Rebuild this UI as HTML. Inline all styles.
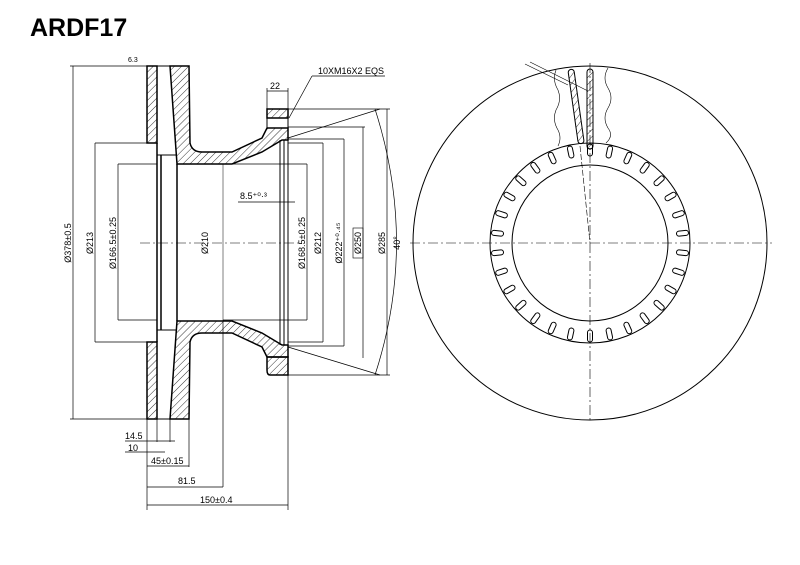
<!DOCTYPE html>
<html><head><meta charset="utf-8"><style>
html,body{margin:0;padding:0;background:#fff;}
svg{display:block}
text{font-family:"Liberation Sans",sans-serif;fill:#000}
</style></head><body>
<svg width="800" height="565" viewBox="0 0 800 565" xmlns="http://www.w3.org/2000/svg">
<defs>
<pattern id="h" width="5" height="5" patternUnits="userSpaceOnUse" patternTransform="rotate(45)">
<line x1="0" y1="0" x2="0" y2="5" stroke="#000" stroke-width="0.8"/>
</pattern>
</defs>
<text x="30" y="36" font-size="25" font-weight="bold">ARDF17</text>

<g stroke="#000" fill="none" stroke-width="1">
<line x1="140" y1="243" x2="300" y2="243" stroke-dasharray="10,3,2,3" stroke-width="0.6"/>
<rect x="147" y="66" width="10" height="77" fill="url(#h)" stroke-width="1.5"/>
<rect x="147" y="342" width="10" height="77" fill="url(#h)" stroke-width="1.5"/>
<path d="M170,66 L189,66 L190,143 Q192,152 202,152 L232,152 L262,138 L267,128 L288,128 L288,140 L282,140 L262,152 L232,164 L177,164 Z" fill="url(#h)" stroke-width="1.5"/>
<rect x="267" y="109" width="21" height="9" fill="url(#h)" stroke-width="1.5"/>
<line x1="267" y1="118" x2="267" y2="128"/><line x1="288" y1="118" x2="288" y2="128"/>
<path d="M170,419 L189,419 L190,342 Q192,333 202,333 L232,333 L262,347 L267,357 L288,357 L288,345 L282,345 L262,333 L232,321 L177,321 Z" fill="url(#h)" stroke-width="1.5"/>
<path d="M267,357 L288,357 L288,375 L270,375 Q267,375 267,370 Z" fill="url(#h)" stroke-width="1.5"/>
<line x1="157" y1="143" x2="157" y2="342" stroke-width="1.5"/>
<line x1="161" y1="155" x2="161" y2="330" stroke-width="1.5"/>
<line x1="157" y1="155" x2="177" y2="155"/><line x1="157" y1="330" x2="177" y2="330"/>
<line x1="177" y1="164" x2="177" y2="321" stroke-width="1.5"/>
<line x1="280" y1="140" x2="280" y2="345"/><line x1="284" y1="140" x2="284" y2="345"/>
<line x1="288" y1="140" x2="288" y2="345"/>
<line x1="223" y1="164" x2="223" y2="321" stroke-width="0.5"/>
<line x1="157" y1="66" x2="170" y2="66"/><line x1="157" y1="419" x2="170" y2="419"/>

<g stroke-width="0.7">
<line x1="73" y1="66" x2="73" y2="419"/><line x1="70" y1="66" x2="147" y2="66"/><line x1="70" y1="419" x2="147" y2="419"/>
<line x1="95" y1="143" x2="95" y2="342"/><line x1="95" y1="143" x2="147" y2="143"/><line x1="95" y1="342" x2="147" y2="342"/>
<line x1="118" y1="164" x2="118" y2="320"/><line x1="118" y1="164" x2="157" y2="164"/><line x1="118" y1="320" x2="157" y2="320"/>
<line x1="307" y1="164" x2="307" y2="320"/><line x1="223" y1="164" x2="307" y2="164"/><line x1="223" y1="320" x2="307" y2="320"/>
<line x1="323" y1="143" x2="323" y2="342"/><line x1="288" y1="143" x2="323" y2="143"/><line x1="288" y1="342" x2="323" y2="342"/>
<line x1="344" y1="139" x2="344" y2="346"/><line x1="288" y1="139" x2="344" y2="139"/><line x1="288" y1="346" x2="344" y2="346"/>
<line x1="363" y1="127" x2="363" y2="358"/><line x1="288" y1="127" x2="365" y2="127"/>
<line x1="387" y1="109" x2="387" y2="375"/><line x1="288" y1="109" x2="390" y2="109"/><line x1="288" y1="375" x2="390" y2="375"/>
<path d="M375,109 Q418,243 375,375"/>
<line x1="288" y1="138" x2="380" y2="109"/><line x1="288" y1="347" x2="380" y2="375"/>
<line x1="288" y1="88" x2="288" y2="510"/><line x1="147" y1="419" x2="147" y2="510"/>
<line x1="189" y1="419" x2="189" y2="467"/><line x1="223" y1="321" x2="223" y2="487"/>
<line x1="157" y1="419" x2="157" y2="442"/><line x1="170" y1="419" x2="170" y2="442"/>
<line x1="125" y1="441" x2="175" y2="441"/><line x1="125" y1="452" x2="165" y2="452"/>
<line x1="147" y1="466" x2="189" y2="466"/><line x1="147" y1="487" x2="223" y2="487"/><line x1="147" y1="505" x2="288" y2="505"/>
<line x1="267" y1="88" x2="267" y2="109"/><line x1="267" y1="91" x2="288" y2="91"/>
<line x1="289" y1="118" x2="312" y2="76"/><line x1="312" y1="76" x2="385" y2="76"/>
<line x1="238" y1="202" x2="295" y2="202"/>
</g>
</g>
<g font-size="9">
<text transform="translate(71,243) rotate(-90)" text-anchor="middle">Ø378±0.5</text>
<text transform="translate(93,243) rotate(-90)" text-anchor="middle">Ø213</text>
<text transform="translate(116,243) rotate(-90)" text-anchor="middle">Ø166.5±0.25</text>
<text transform="translate(208,243) rotate(-90)" text-anchor="middle">Ø210</text>
<text transform="translate(305,243) rotate(-90)" text-anchor="middle">Ø168.5±0.25</text>
<text transform="translate(321,243) rotate(-90)" text-anchor="middle">Ø212</text>
<text transform="translate(342,243) rotate(-90)" text-anchor="middle">Ø222⁺⁰·⁴⁵</text>
<text transform="translate(361,243) rotate(-90)" text-anchor="middle">Ø250</text>
<rect x="353" y="228" width="10" height="30" fill="none" stroke="#000" stroke-width="0.6"/>
<text transform="translate(385,243) rotate(-90)" text-anchor="middle">Ø285</text>
<text transform="translate(400,243) rotate(-90)" text-anchor="middle">40°</text>
<text x="318" y="74">10XM16X2  EQS</text>
<text x="270" y="89">22</text>
<text x="240" y="199">8.5⁺⁰·³</text>
<text x="125" y="439">14.5</text>
<text x="128" y="451">10</text>
<text x="151" y="464">45±0.15</text>
<text x="178" y="484">81.5</text>
<text x="200" y="503">150±0.4</text>
<text x="128" y="62" font-size="7">6.3</text>
</g>

<g stroke="#000" fill="none" stroke-width="1">
<circle cx="590" cy="243" r="177"/>
<circle cx="590" cy="243" r="100"/>
<circle cx="590" cy="243" r="78"/>
<line x1="410" y1="243" x2="772" y2="243" stroke-dasharray="10,3,2,3" stroke-width="0.6"/>
<line x1="590" y1="63" x2="590" y2="422" stroke-dasharray="10,3,2,3" stroke-width="0.6"/>
<g transform="translate(590,243)">
<rect x="-2.5" y="-99" width="5" height="12" rx="2.5" transform="rotate(0)"/>
<rect x="-2.5" y="-99" width="5" height="12" rx="2.5" transform="rotate(12)"/>
<rect x="-2.5" y="-99" width="5" height="12" rx="2.5" transform="rotate(24)"/>
<rect x="-2.5" y="-99" width="5" height="12" rx="2.5" transform="rotate(36)"/>
<rect x="-2.5" y="-99" width="5" height="12" rx="2.5" transform="rotate(48)"/>
<rect x="-2.5" y="-99" width="5" height="12" rx="2.5" transform="rotate(60)"/>
<rect x="-2.5" y="-99" width="5" height="12" rx="2.5" transform="rotate(72)"/>
<rect x="-2.5" y="-99" width="5" height="12" rx="2.5" transform="rotate(84)"/>
<rect x="-2.5" y="-99" width="5" height="12" rx="2.5" transform="rotate(96)"/>
<rect x="-2.5" y="-99" width="5" height="12" rx="2.5" transform="rotate(108)"/>
<rect x="-2.5" y="-99" width="5" height="12" rx="2.5" transform="rotate(120)"/>
<rect x="-2.5" y="-99" width="5" height="12" rx="2.5" transform="rotate(132)"/>
<rect x="-2.5" y="-99" width="5" height="12" rx="2.5" transform="rotate(144)"/>
<rect x="-2.5" y="-99" width="5" height="12" rx="2.5" transform="rotate(156)"/>
<rect x="-2.5" y="-99" width="5" height="12" rx="2.5" transform="rotate(168)"/>
<rect x="-2.5" y="-99" width="5" height="12" rx="2.5" transform="rotate(180)"/>
<rect x="-2.5" y="-99" width="5" height="12" rx="2.5" transform="rotate(192)"/>
<rect x="-2.5" y="-99" width="5" height="12" rx="2.5" transform="rotate(204)"/>
<rect x="-2.5" y="-99" width="5" height="12" rx="2.5" transform="rotate(216)"/>
<rect x="-2.5" y="-99" width="5" height="12" rx="2.5" transform="rotate(228)"/>
<rect x="-2.5" y="-99" width="5" height="12" rx="2.5" transform="rotate(240)"/>
<rect x="-2.5" y="-99" width="5" height="12" rx="2.5" transform="rotate(252)"/>
<rect x="-2.5" y="-99" width="5" height="12" rx="2.5" transform="rotate(264)"/>
<rect x="-2.5" y="-99" width="5" height="12" rx="2.5" transform="rotate(276)"/>
<rect x="-2.5" y="-99" width="5" height="12" rx="2.5" transform="rotate(288)"/>
<rect x="-2.5" y="-99" width="5" height="12" rx="2.5" transform="rotate(300)"/>
<rect x="-2.5" y="-99" width="5" height="12" rx="2.5" transform="rotate(312)"/>
<rect x="-2.5" y="-99" width="5" height="12" rx="2.5" transform="rotate(324)"/>
<rect x="-2.5" y="-99" width="5" height="12" rx="2.5" transform="rotate(336)"/>
<rect x="-2.5" y="-99" width="5" height="12" rx="2.5" transform="rotate(348)"/>
</g>
<rect x="587" y="69" width="6" height="80" rx="3" fill="url(#h)"/>
<rect x="573" y="69" width="6" height="75" rx="3" fill="url(#h)" transform="rotate(-8 576 106)"/>
<path d="M556,70 q-4,10 2,20 q4,10 -2,20 q-4,10 2,20 q4,8 0,16" stroke-width="0.6"/>
<path d="M608,68 q-6,10 0,20 q6,10 0,20 q-6,10 0,20 q6,8 -2,15" stroke-width="0.6"/>
<line x1="525" y1="64" x2="568" y2="85" stroke-width="0.6"/>
<line x1="530" y1="62" x2="588" y2="91" stroke-width="0.6"/>
<line x1="580" y1="146" x2="590" y2="243" stroke-width="0.6" stroke-dasharray="6,2"/>
</g>
</svg>
</body></html>
